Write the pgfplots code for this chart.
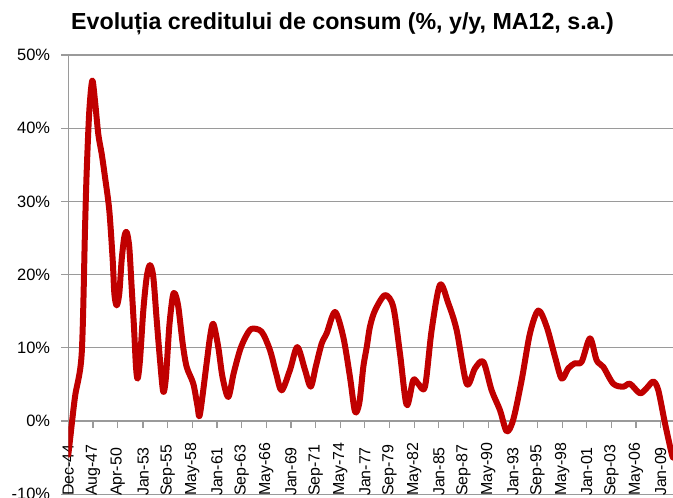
\documentclass[border=0pt]{standalone}
\usepackage{fontspec}
\setmainfont{Liberation Sans}
\usepackage{pgfplots}
\pgfplotsset{compat=1.18}
\definecolor{linered}{HTML}{C00000}
\definecolor{gridgray}{HTML}{9A9A9A}
\begin{document}
\begin{tikzpicture}
\begin{axis}[
  name=ax,
  scale only axis,
  width=604.7bp, height=439.3bp,
  xmin=1944.917, xmax=2010.33,
  ymin=-10, ymax=50,
  axis x line*=middle,
  axis y line*=left,
  hide obscured x ticks=false,
  axis line style={gridgray, line width=1.2bp, -},
  ytick={-10,0,10,20,30,40,50},
  yticklabels={{-10\%},{0\%},{10\%},{20\%},{30\%},{40\%},{50\%}},
  ymajorgrids,
  major grid style={gridgray, line width=1.2bp},
  tick style={gridgray, line width=1.2bp},
  tick align=outside,
  major tick length=7bp,
  xtick={1944.917,1947.583,1950.25,1953.0,1955.667,1958.333,1961.0,1963.667,1966.333,1969.0,1971.667,1974.333,1977.0,1979.667,1982.333,1985.0,1987.667,1990.333,1993.0,1995.667,1998.333,2001.0,2003.667,2006.333,2009.0},
  xticklabels={Dec-44,Aug-47,Apr-50,Jan-53,Sep-55,May-58,Jan-61,Sep-63,May-66,Jan-69,Sep-71,May-74,Jan-77,Sep-79,May-82,Jan-85,Sep-87,May-90,Jan-93,Sep-95,May-98,Jan-01,Sep-03,May-06,Jan-09},
  xticklabel style={yshift=-68bp, rotate=90, anchor=west, font=\fontsize{16}{16}\selectfont, text=black, inner sep=0pt},
  yticklabel style={font=\fontsize{16.5}{16.5}\selectfont, text=black, inner sep=0pt, xshift=-11bp},
  clip=true,
]
% short tick marks hanging below the 0% line at each labelled date
\addplot[ycomb, gridgray, line width=1.2bp, mark=none] coordinates {
(1947.583,-0.95) (1950.25,-0.95) (1953.0,-0.95) (1955.667,-0.95) (1958.333,-0.95) (1961.0,-0.95) (1963.667,-0.95) (1966.333,-0.95) (1969.0,-0.95) (1971.667,-0.95) (1974.333,-0.95) (1977.0,-0.95) (1979.667,-0.95) (1982.333,-0.95) (1985.0,-0.95) (1987.667,-0.95) (1990.333,-0.95) (1993.0,-0.95) (1995.667,-0.95) (1998.333,-0.95) (2001.0,-0.95) (2003.667,-0.95) (2006.333,-0.95) (2009.0,-0.95)
};
\addplot[linered, line width=6bp, smooth, tension=0.5, line join=round, line cap=round] coordinates {
(1944.917,-4.6) (1945.10,-2.6) (1945.64,3.3) (1946.37,9.3) (1946.73,26.5) (1946.91,34.2) (1947.19,42.4) (1947.51,46.5)
(1947.80,43.8) (1948.16,39.2) (1948.53,36.5) (1948.89,33.3) (1949.35,28.8) (1949.72,22.0) (1949.90,17.4) (1950.15,15.8)
(1950.43,17.4) (1950.69,22.0) (1950.97,25.1) (1951.23,25.8) (1951.51,23.8) (1951.77,18.3) (1952.02,12.9) (1952.24,7.4)
(1952.42,5.8) (1952.67,8.3) (1953.03,15.1) (1953.40,19.7) (1953.75,21.3) (1954.11,19.7) (1954.48,13.8) (1954.84,8.3)
(1955.19,4.0) (1955.48,6.0) (1955.84,12.9) (1956.21,17.0) (1956.46,17.4) (1956.82,15.6) (1957.29,10.6) (1957.72,7.4)
(1958.44,5.1) (1958.90,2.0) (1959.15,0.9) (1959.88,7.9) (1960.25,11.5) (1960.60,13.3) (1961.14,10.1) (1961.60,6.0)
(1962.22,3.3) (1962.80,6.5) (1963.49,9.7) (1964.10,11.5) (1964.75,12.6) (1965.83,12.2) (1966.73,9.7) (1967.40,6.5)
(1968.00,4.2) (1968.90,7.0) (1969.69,10.1) (1970.52,7.0) (1971.14,4.7) (1971.70,7.5) (1972.33,10.6) (1972.87,12.0)
(1973.77,14.9) (1974.66,11.5) (1975.39,6.0) (1975.93,1.3) (1976.40,2.5) (1976.83,7.4) (1977.20,10.1) (1977.55,12.9)
(1978.09,15.1) (1979.17,17.2) (1980.07,15.6) (1980.80,9.2) (1981.52,2.2) (1982.23,5.6) (1982.77,5.1) (1983.50,4.7)
(1984.22,12.4) (1985.12,18.6) (1986.02,16.1) (1986.93,12.4) (1988.01,5.1) (1988.91,7.2) (1989.81,8.1) (1990.71,4.2)
(1991.61,1.5) (1992.34,-1.4) (1993.05,0.2) (1993.96,5.6) (1994.86,12.0) (1995.76,15.1) (1996.66,12.9) (1997.56,8.8)
(1998.29,5.8) (1999.00,7.2) (1999.72,7.9) (2000.45,8.1) (2001.35,11.3) (2002.07,8.3) (2002.79,7.4) (2003.87,5.1)
(2004.95,4.7) (2005.67,5.1) (2006.75,3.8) (2007.48,4.5) (2008.20,5.4) (2008.74,4.2) (2009.46,-0.3) (2010.18,-4.4)
(2010.35,-5.0)
};
\end{axis}
\node[anchor=base, font=\bfseries\fontsize{23.3}{23.3}\selectfont, inner sep=0pt] at ([shift={(274.2bp,25.7bp)}]ax.north west) {Evoluția creditului de consum (\%, y/y, MA12, s.a.)};
\pgfresetboundingbox
\path ([shift={(-68.3bp,-3.7bp)}]ax.south west) rectangle ([shift={(0bp,55bp)}]ax.north east);
\end{tikzpicture}
\end{document}
